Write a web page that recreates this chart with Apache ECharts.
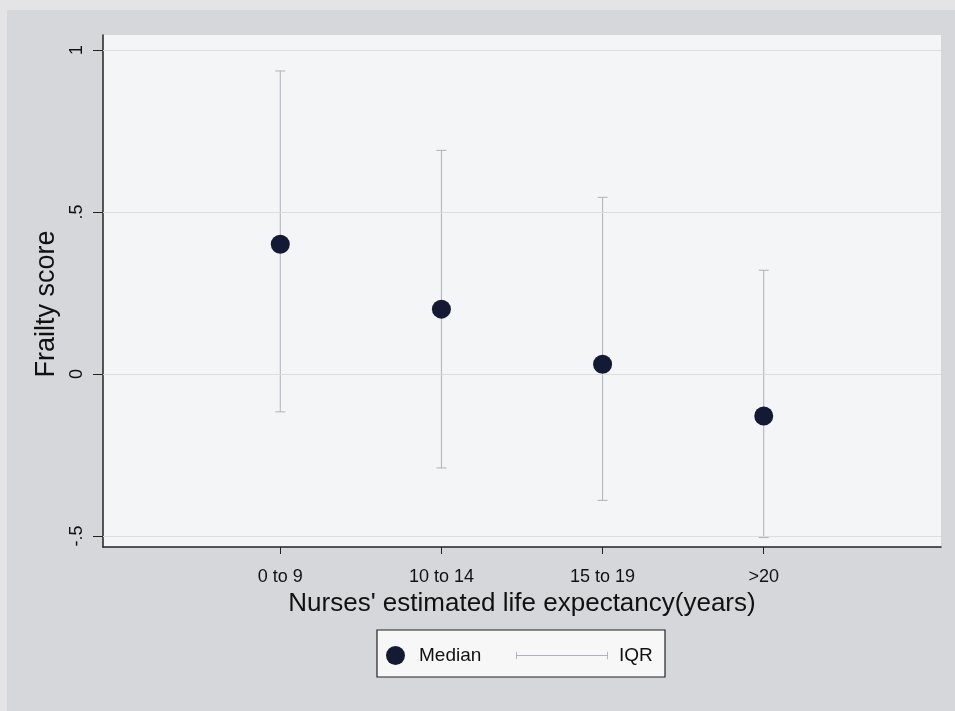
<!DOCTYPE html>
<html>
<head>
<meta charset="utf-8">
<script src="https://cdn.jsdelivr.net/npm/echarts@6/dist/echarts.min.js"></script>
<style>
  html, body { margin: 0; padding: 0; background: #d6d7db; }
  #chart { width: 955px; height: 711px; }
</style>
</head>
<body>
<div id="chart"></div>
<script>
// data
const categories = ["0 to 9", "10 to 14", "15 to 19", ">20"];
const median = [0.40, 0.20, 0.03, -0.13];
const iqrLow = [-0.117, -0.29, -0.39, -0.505];
const iqrHigh = [0.935, 0.69, 0.545, 0.32];
const yTicks = [-0.5, 0, 0.5, 1];
const yTickLabels = ["-.5", "0", ".5", "1"];

const xPos = categories.map((c, i) => i + 1);
const font = "Liberation Sans, Arial, sans-serif";

const chart = echarts.init(document.getElementById("chart"));

const options = {
  backgroundColor: "#d6d7db",
  animation: false,
  grid: {
    left: 103,
    right: 14,
    top: 35,
    bottom: 164,
    show: true,
    backgroundColor: "#f4f5f6",
    borderWidth: 0
  },
  xAxis: {
    type: "value",
    min: -0.1,
    max: 5.1,
    name: "Nurses' estimated life expectancy(years)",
    nameLocation: "middle",
    nameGap: 43,
    nameTextStyle: { color: "#111", fontSize: 26, fontFamily: font },
    axisLine: { show: true, onZero: false, lineStyle: { color: "#222", width: 1.5 } },
    axisTick: { show: true, length: 7, customValues: xPos, lineStyle: { color: "#222" } },
    axisLabel: {
      customValues: xPos,
      margin: 21,
      color: "#111",
      fontSize: 18,
      fontFamily: font,
      formatter: function (v) {
        return categories[Math.round(v) - 1] || "";
      }
    },
    splitLine: { show: false }
  },
  yAxis: {
    type: "value",
    min: -0.534,
    max: 1.046,
    name: "Frailty score",
    nameLocation: "middle",
    nameGap: 38,
    nameTextStyle: { color: "#111", fontSize: 27, fontFamily: font, padding: [0, 26, 0, 0] },
    axisLine: { show: true, onZero: false, lineStyle: { color: "#222", width: 1.5 } },
    axisTick: { show: true, length: 10, customValues: yTicks, lineStyle: { color: "#222" } },
    axisLabel: {
      customValues: yTicks,
      rotate: 90,
      margin: 17,
      color: "#111",
      fontSize: 18,
      fontFamily: font,
      formatter: function (v) {
        const i = yTicks.indexOf(v);
        return i >= 0 ? yTickLabels[i] : "";
      }
    },
    splitLine: { show: false }
  },
  legend: [
    {
      data: [{ name: "Median", icon: "circle" }],
      left: 386,
      top: 646,
      padding: 0,
      itemWidth: 19,
      itemHeight: 19,
      itemGap: 0,
      textStyle: { color: "#111", fontSize: 19, fontFamily: font, padding: [0, 0, 0, 9] }
    },
    {
      data: [{
        name: "IQR",
        icon: "path://M0,4.5h100v1h-100z M0,1h1v8h-1z M99,1h1v8h-1z"
      }],
      left: 516,
      top: 646,
      padding: 0,
      itemWidth: 92,
      itemHeight: 12,
      itemStyle: { color: "#b0b0be" },
      textStyle: { color: "#111", fontSize: 19, fontFamily: font, padding: [0, 0, 0, 6] }
    }
  ],
  graphic: [
    // lighter edges of the photographed page
    { type: "rect", z: -2, shape: { x: 0, y: 0, width: 955, height: 10 }, style: { fill: "#e4e4e6" } },
    { type: "rect", z: -2, shape: { x: 0, y: 0, width: 7, height: 711 }, style: { fill: "#e4e4e6" } },
    {
      type: "rect",
      z: -1,
      shape: { x: 377, y: 630, width: 288, height: 47 },
      style: { fill: "#f7f7f8", stroke: "#222", lineWidth: 1.2 }
    }
  ],
  series: [
    {
      // horizontal grid lines
      type: "line",
      data: [],
      silent: true,
      markLine: {
        symbol: "none",
        silent: true,
        label: { show: false },
        lineStyle: { color: "#dcdde1", width: 1, type: "solid" },
        data: yTicks.map(v => ({ yAxis: v }))
      }
    },
    {
      name: "IQR",
      type: "custom",
      data: xPos.map((x, i) => [x, iqrLow[i], iqrHigh[i]]),
      itemStyle: { color: "#b0b0be" },
      renderItem: function (params, api) {
        const x = api.value(0);
        const lo = api.coord([x, api.value(1)]);
        const hi = api.coord([x, api.value(2)]);
        const cap = 5;
        const style = { stroke: "#b0b0be", lineWidth: 1 };
        return {
          type: "group",
          children: [
            { type: "line", shape: { x1: lo[0], y1: lo[1], x2: hi[0], y2: hi[1] }, style: style },
            { type: "line", shape: { x1: lo[0] - cap, y1: lo[1], x2: lo[0] + cap, y2: lo[1] }, style: style },
            { type: "line", shape: { x1: hi[0] - cap, y1: hi[1], x2: hi[0] + cap, y2: hi[1] }, style: style }
          ]
        };
      },
      z: 2
    },
    {
      name: "Median",
      type: "scatter",
      data: xPos.map((x, i) => [x, median[i]]),
      symbol: "circle",
      symbolSize: 19,
      itemStyle: { color: "#141a33", opacity: 1 },
      z: 3
    }
  ]
};

chart.setOption(options);
</script>
</body>
</html>
